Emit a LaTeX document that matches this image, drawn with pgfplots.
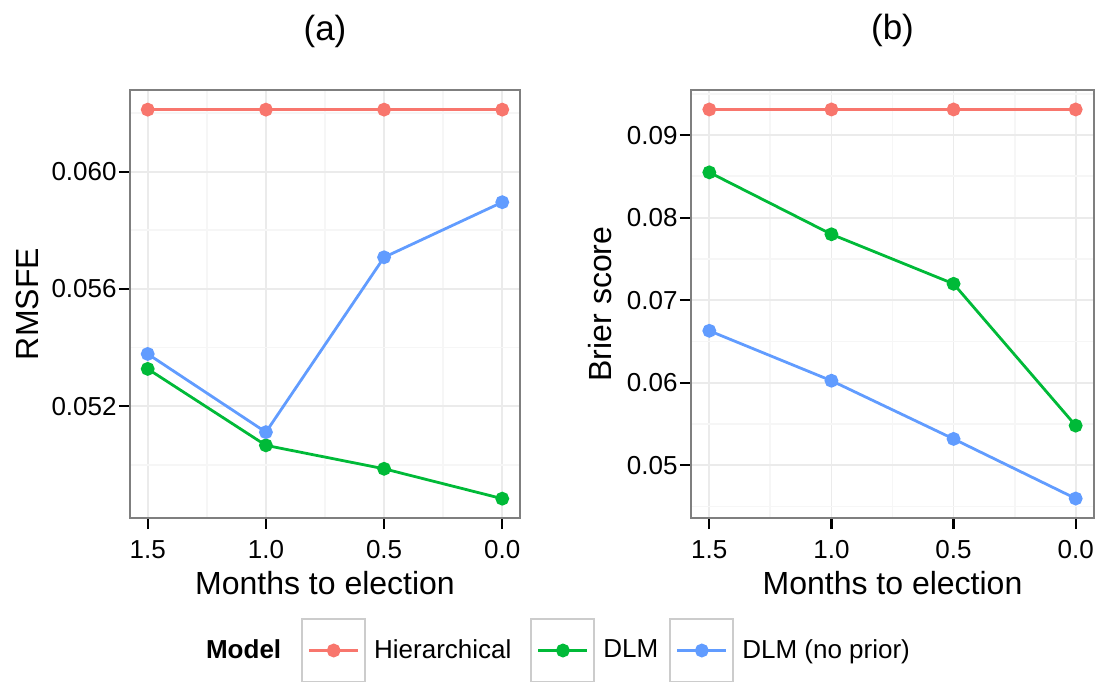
\documentclass[border=0pt]{standalone}
\usepackage{fontspec}
\setmainfont{Liberation Sans}
\usepackage{pgfplots}
\pgfplotsset{compat=1.18}
\definecolor{cH}{HTML}{F8766D}
\definecolor{cD}{HTML}{00BA38}
\definecolor{cN}{HTML}{619CFF}
\definecolor{gmaj}{HTML}{EBEBEB}
\definecolor{gmin}{HTML}{F6F6F6}
\definecolor{bord}{HTML}{7F7F7F}
\definecolor{keyb}{HTML}{CCCCCC}
\pgfplotsset{
 panel/.style={
  scale only axis, height=214pt,
  x dir=reverse, xmin=-0.075, xmax=1.575,
  xtick={0,0.5,1,1.5}, xticklabels={0.0,0.5,1.0,1.5},
  minor xtick={0.25,0.75,1.25},
  grid=both,
  major grid style={gmaj, line width=0.9pt},
  minor grid style={gmin, line width=0.9pt},
  axis line style={bord, line width=1pt},
  tick align=outside, tick pos=left,
  major tick length=5.5pt, minor tick length=0pt,
  major tick style={black, line width=1.1pt},
  scaled y ticks=false,
  ticklabel style={font=\fontsize{13}{15}\selectfont, inner sep=0pt},
  xticklabel style={anchor=base, yshift=-14.5pt},
  yticklabel style={anchor=east, xshift=-1pt},
  every axis x label/.style={at={(axis description cs:0.5,-0.1776)}, anchor=base, font=\fontsize{16}{18}\selectfont},
  every axis title/.style={font=\fontsize{17.5}{20}\selectfont, at={(axis description cs:0.5,1)}, anchor=base, yshift=25pt},
  every axis plot/.append style={line width=1.4pt, mark=*, mark size=2.75pt},
  legend image code/.code={
    \draw[keyb, line width=1pt] (0pt,-15.75pt) rectangle (31.5pt,15.75pt);
    \draw[mark repeat=2, mark phase=2, #1] plot coordinates {(3.5pt,0pt) (15.75pt,0pt) (28pt,0pt)};
  },
 },
}
\begin{document}
\begin{tikzpicture}
\useasboundingbox (0,0) rectangle (549pt,340.5pt);
\begin{axis}[panel, at={(65pt,81.5pt)}, width=195pt,
  ymin=0.04818, ymax=0.06279,
  ytick={0.052,0.056,0.060}, yticklabels={0.052,0.056,0.060},
  minor ytick={0.050,0.054,0.058,0.062},
  xlabel={Months to election}, ylabel={RMSFE}, title={(a)},
  every axis y label/.style={at={(axis description cs:-0.264,0.5)}, rotate=90, anchor=center, font=\fontsize{16}{18}\selectfont},
  legend columns=-1,
  legend style={at={(axis description cs:1.0872,-0.3096)}, anchor=center, draw=none, fill=none,
    inner sep=0pt, font=\fontsize{13}{15}\selectfont, column sep=4pt,
    nodes={inner sep=0pt}, cells={anchor=west}},
]
\addlegendimage{empty legend}
\addlegendentry{\textbf{Model}\rule{6pt}{0pt}}
\addplot[cH, mark options={fill=cH, draw=none}] coordinates {(1.5,0.06212) (1.0,0.06212) (0.5,0.06212) (0.0,0.06212)};
\addlegendentry{Hierarchical\rule{5.5pt}{0pt}}
\addplot[cD, mark options={fill=cD, draw=none}] coordinates {(1.5,0.05327) (1.0,0.05066) (0.5,0.04986) (0.0,0.04884)};
\addlegendentry{DLM\rule{1.5pt}{0pt}}
\addplot[cN, mark options={fill=cN, draw=none}] coordinates {(1.5,0.05378) (1.0,0.05111) (0.5,0.05708) (0.0,0.05896)};
\addlegendentry{DLM (no prior)}
\end{axis}
\begin{axis}[panel, at={(345.5pt,81.5pt)}, width=201.5pt,
  ymin=0.04361, ymax=0.09546,
  ytick={0.05,0.06,0.07,0.08,0.09}, yticklabels={0.05,0.06,0.07,0.08,0.09},
  minor ytick={0.045,0.055,0.065,0.075,0.085,0.095},
  xlabel={Months to election}, ylabel={Brier score}, title={(b)},
  every axis y label/.style={at={(axis description cs:-0.2258,0.5)}, rotate=90, anchor=center, font=\fontsize{16}{18}\selectfont},
]
\addplot[cH, mark options={fill=cH, draw=none}] coordinates {(1.5,0.0931) (1.0,0.0931) (0.5,0.0931) (0.0,0.0931)};
\addplot[cD, mark options={fill=cD, draw=none}] coordinates {(1.5,0.08548) (1.0,0.07798) (0.5,0.07198) (0.0,0.0548)};
\addplot[cN, mark options={fill=cN, draw=none}] coordinates {(1.5,0.06629) (1.0,0.06024) (0.5,0.05319) (0.0,0.04597)};
\end{axis}
\end{tikzpicture}
\end{document}
